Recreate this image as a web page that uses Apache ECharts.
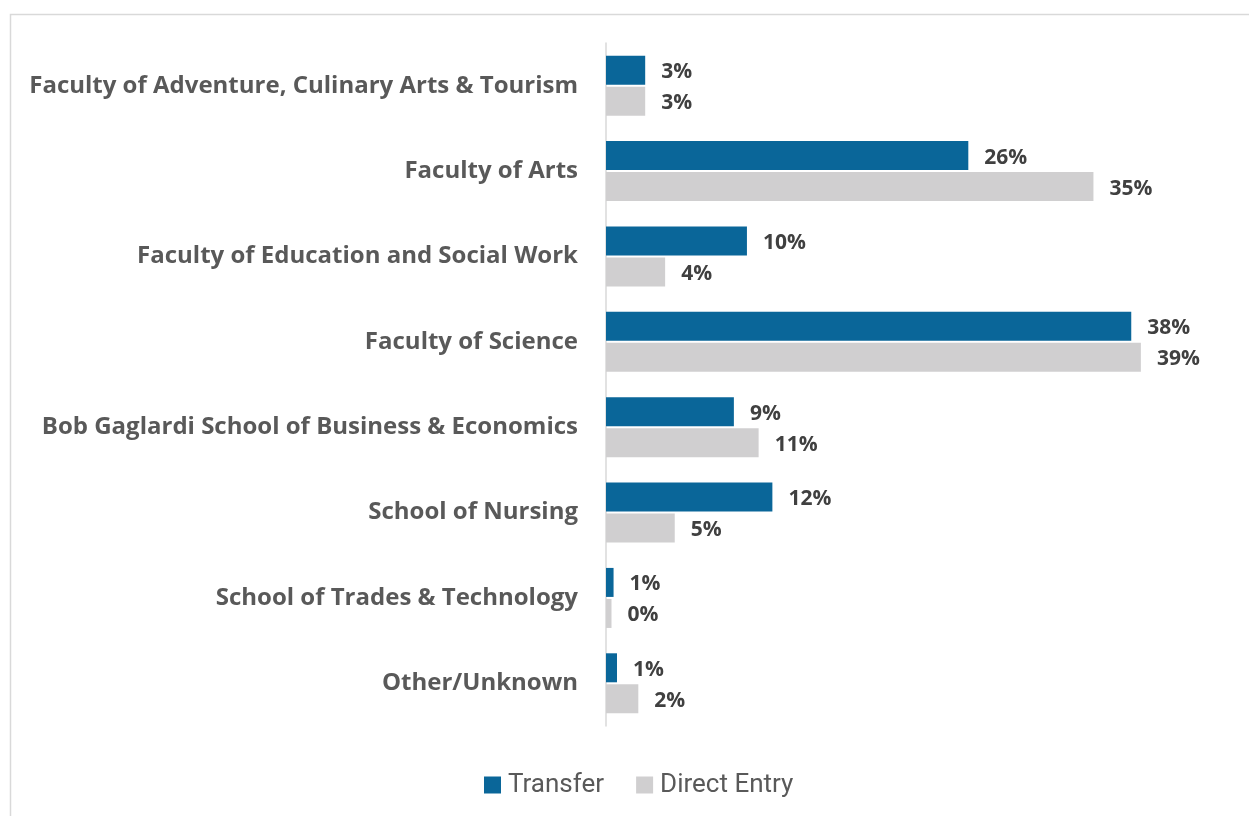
<!DOCTYPE html>
<html>
<head>
<meta charset="utf-8">
<script src="https://cdn.jsdelivr.net/npm/echarts@6/dist/echarts.min.js"></script>
<style>
  html, body { margin: 0; padding: 0; background: #fff; }
  #main { width: 1249px; height: 816px; }
</style>
</head>
<body>
<div id="main"></div>
<script>
// faculties, top to bottom
var categories = [
  'Faculty of Adventure, Culinary Arts & Tourism',
  'Faculty of Arts',
  'Faculty of Education and Social Work',
  'Faculty of Science',
  'Bob Gaglardi School of Business & Economics',
  'School of Nursing',
  'School of Trades & Technology',
  'Other/Unknown'
];
// share of students (%), labels are rounded
var transfer = [2.85, 26.35, 10.25, 38.2, 9.3, 12.1, 0.55, 0.8];
var directEntry = [2.85, 35.45, 4.3, 38.9, 11.1, 5.0, 0.4, 2.35];

var chart = echarts.init(document.getElementById('main'));

var labelStyle = {
  show: true,
  position: 'right',
  distance: 16,
  offset: [0, 2],
  color: '#404040',
  fontFamily: 'Open Sans',
  fontWeight: 'bold',
  fontSize: 21,
  formatter: function (p) { return Math.round(p.value) + '%'; }
};

var option = {
  animation: false,
  backgroundColor: '#fff',
  color: ['#0a6699', '#d0cfd0'],
  graphic: [
    {
      type: 'rect',
      shape: { x: 10.5, y: 14.5, width: 1300, height: 900 },
      style: { fill: 'none', stroke: '#d9d9d9', lineWidth: 1.5 },
      silent: true
    }
  ],
  legend: {
    bottom: 13,
    left: 479,
    itemWidth: 17,
    itemHeight: 17,
    itemGap: 32,
    icon: 'rect',
    textStyle: { color: '#595959', fontFamily: 'Roboto', fontSize: 26, padding: [0, 0, 0, 2] },
    data: ['Transfer', 'Direct Entry']
  },
  grid: {
    left: 606,
    right: 93,
    top: 43,
    bottom: 90,
    containLabel: false
  },
  xAxis: {
    type: 'value',
    min: 0,
    max: 40,
    show: false
  },
  yAxis: {
    type: 'category',
    inverse: true,
    data: categories,
    axisTick: { show: false },
    axisLine: { lineStyle: { color: '#d9d9d9', width: 1.5 } },
    axisLabel: {
      margin: 28,
      color: '#595959',
      fontFamily: 'Open Sans',
      fontWeight: 'bold',
      fontSize: 24,
      padding: [3, 0, 0, 0]
    }
  },
  series: [
    {
      name: 'Transfer',
      type: 'bar',
      barWidth: 29,
      barGap: '7%',
      label: labelStyle,
      data: transfer
    },
    {
      name: 'Direct Entry',
      type: 'bar',
      barWidth: 29,
      barGap: '7%',
      label: labelStyle,
      data: directEntry
    }
  ]
};

chart.setOption(option);
</script>
</body>
</html>
